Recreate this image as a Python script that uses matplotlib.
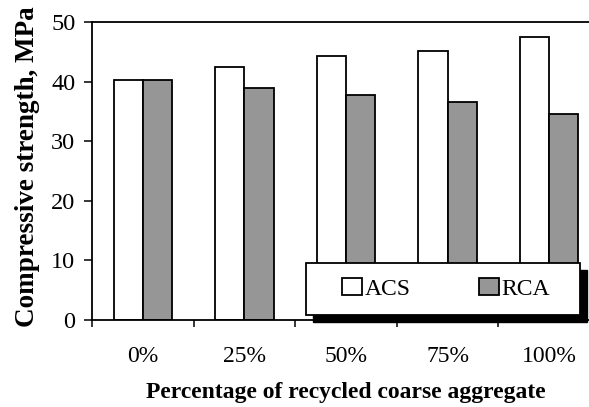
import matplotlib
matplotlib.use("Agg")
import matplotlib.pyplot as plt
from matplotlib.patches import Rectangle
import numpy as np

categories = ["0%", "25%", "50%", "75%", "100%"]
acs = [40.3, 42.4, 44.3, 45.2, 47.5]
rca = [40.3, 39.0, 37.7, 36.5, 34.5]
yticks = [0, 10, 20, 30, 40, 50]

plt.rcParams["font.family"] = ["Liberation Serif", "DejaVu Serif"]

fig = plt.figure(figsize=(5.89, 4.07), dpi=100)
W, H = 589, 407
left, right, top, bottom = 92, 600, 22, 320
ax = fig.add_axes([left / W, 1 - bottom / H, (right - left) / W, (bottom - top) / H])

gray = "#969696"
x = np.arange(len(categories))
w = 0.288
lw = 1.3
bars_acs = ax.bar(x - w / 2, acs, w, color="white", edgecolor="black", linewidth=lw, label="ACS", zorder=2)
bars_rca = ax.bar(x + w / 2, rca, w, color=gray, edgecolor="black", linewidth=lw, label="RCA", zorder=2)

ax.set_xlim(-0.5, len(categories) - 0.5)
ax.set_ylim(0, 50)
ax.set_yticks(yticks)
ax.set_xticks(x)
ax.set_xticklabels(categories)
ax.set_xticks(np.arange(-0.5, len(categories), 1.0), minor=True)

for s in ["top", "left", "bottom", "right"]:
    ax.spines[s].set_linewidth(1.3)

ax.tick_params(axis="y", direction="out", length=6, width=1.1, labelsize=17.5, pad=6)
ax.tick_params(axis="x", which="major", length=0, labelsize=17, pad=19)
ax.tick_params(axis="x", which="minor", direction="out", length=5, width=1.1)

ax.set_xlabel("Percentage of recycled coarse aggregate", fontsize=17, fontweight="bold", labelpad=10.5)
ax.set_ylabel("Compressive strength, MPa", fontsize=19.5, fontweight="bold")
ax.yaxis.set_label_coords(-0.102, 0.513)

# legend box with a solid drop shadow, drawn on the figure in pixel units
bx0, by0, bx1, by1 = 306, 263, 580, 315
off = 7
shadow = Rectangle(((bx0 + off) / W, 1 - (by1 + off) / H), (bx1 - bx0) / W, (by1 - by0) / H,
                   transform=fig.transFigure, facecolor="black", edgecolor="black", zorder=1)
frame = Rectangle((bx0 / W, 1 - by1 / H), (bx1 - bx0) / W, (by1 - by0) / H,
                  transform=fig.transFigure, facecolor="white", edgecolor="black",
                  linewidth=1.3, zorder=2)
fig.add_artist(shadow)
fig.add_artist(frame)

leg = fig.legend(
    [bars_acs, bars_rca], ["ACS", "RCA"],
    ncol=2,
    loc="center",
    bbox_to_anchor=(446 / W, 1 - 289 / H),
    bbox_transform=fig.transFigure,
    fontsize=17,
    frameon=False,
    handlelength=0.85,
    handleheight=0.7,
    handletextpad=0.1,
    columnspacing=2.9,
    borderpad=0,
)
leg.set_zorder(3)

fig.savefig("out.png", dpi=100)
